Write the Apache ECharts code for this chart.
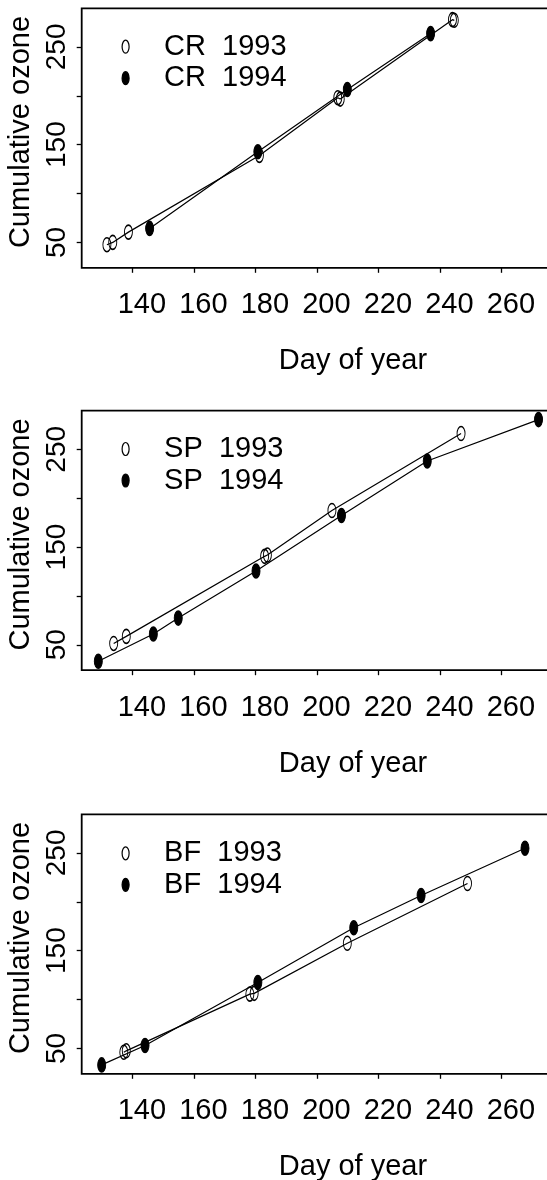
<!DOCTYPE html>
<html><head><meta charset="utf-8">
<script src="https://cdn.jsdelivr.net/npm/echarts@6/dist/echarts.min.js"></script>
<style>html,body{margin:0;padding:0;background:#fff}#c{width:547px;height:1180px}</style>
</head><body><div id="c"></div>
<script>
// ---- data ----
const xTicks = [140, 160, 180, 200, 220, 240, 260];
const yTicks = [50, 100, 150, 200, 250];
const yLabels = [50, 150, 250];
const sites = ['CR', 'SP', 'BF'];
const years = ['1993', '1994'];
const xTitle = 'Day of year';
const yTitle = 'Cumulative ozone';

const cr1993 = [[131.7,47.6],[133.6,50.0],[138.7,60.5],[181.3,139.0],[206.8,198.0],[207.6,196.6],[244.1,277.9],[244.7,277.2]];
const cr1994 = [[145.6,64.3],[180.8,142.7],[209.9,206.5],[237.0,263.6]];
const sp1993 = [[133.9,51.4],[138.0,58.6],[183.0,140.5],[183.9,141.8],[204.9,187.4],[246.9,266.1]];
const sp1994 = [[128.9,33.1],[146.8,61.0],[154.9,77.3],[180.2,125.5],[208.0,182.3],[235.9,238.0],[272.1,280.4]];
const bf1993 = [[137.2,46.0],[138.0,47.5],[178.2,105.5],[179.6,106.3],[209.9,157.5],[249.0,218.7]];
const bf1994 = [[130.0,33.1],[144.1,53.0],[180.8,117.4],[212.0,173.5],[233.9,206.5],[267.7,254.8]];

const panelData = [[cr1993, cr1994], [sp1993, sp1994], [bf1993, bf1994]];

// ---- styling / layout ----
const FONT = '"Liberation Sans", Arial, sans-serif';
const ELLIPSE = 'path://M1,0C1.5523,0 2,0.4477 2,1C2,1.5523 1.5523,2 1,2C0.4477,2 0,1.5523 0,1C0,0.4477 0.4477,0 1,0Z';
const gridTops = [8.3, 410.7, 814.3];
const legendTops = [32.2, 434.5, 838.8];
const GRID_H = 259.5;

const grids = [], xAxes = [], yAxes = [], series = [], legends = [];
gridTops.forEach(function (top, i) {
  grids.push({
    left: 81.7, right: -77.3, top: top, height: GRID_H,
    show: true, borderColor: '#000', borderWidth: 1.8, backgroundColor: 'transparent',
    containLabel: false, outerBoundsMode: 'none'
  });
  xAxes.push({
    type: 'value', gridIndex: i, min: 123.5, max: 300,
    splitLine: { show: false },
    axisLine: { show: false },
    axisTick: { show: true, length: 5, customValues: xTicks, lineStyle: { color: '#000', width: 1.3 } },
    axisLabel: { show: true, customValues: xTicks, margin: 23, fontSize: 29, fontFamily: FONT, color: '#000', padding: [0, 0, 0, 19] },
    name: xTitle, nameLocation: 'middle', nameGap: 79,
    nameTextStyle: { fontSize: 29, fontFamily: FONT, color: '#000' }
  });
  yAxes.push({
    type: 'value', gridIndex: i, min: 24, max: 289.5,
    splitLine: { show: false },
    axisLine: { show: false },
    axisTick: { show: true, length: 5, customValues: yTicks, lineStyle: { color: '#000', width: 1.3 } },
    axisLabel: { show: true, customValues: yLabels, rotate: 90, margin: 10.5, fontSize: 28, fontFamily: FONT, color: '#000' },
    name: yTitle, nameLocation: 'middle', nameGap: 40.5, nameRotate: 90,
    nameTextStyle: { fontSize: 29, fontFamily: FONT, color: '#000', padding: [0, 0, 0, 12] }
  });
  const names = [];
  years.forEach(function (yr, k) {
    const nm = sites[i] + '  ' + yr;
    names.push({ name: nm, icon: ELLIPSE });
    series.push({
      type: 'line', name: nm, xAxisIndex: i, yAxisIndex: i,
      data: panelData[i][k],
      symbol: ELLIPSE, symbolSize: [8, 14], symbolKeepAspect: false,
      lineStyle: { color: '#000', width: 1.2 },
      itemStyle: { color: k === 0 ? 'rgba(0,0,0,0)' : '#000', borderColor: '#000', borderWidth: 1.2 },
      emphasis: { disabled: true },
      silent: true, animation: false
    });
  });
  legends.push({
    data: names, orient: 'vertical', left: 121.5, top: legendTops[i], padding: 0,
    itemWidth: 7, itemHeight: 13, itemGap: 2.5, symbolKeepAspect: false,
    selectedMode: false,
    itemStyle: { borderWidth: 1.2, borderColor: '#000' },
    textStyle: { fontSize: 29, fontFamily: FONT, color: '#000', lineHeight: 29, padding: [0, 0, 0, 30] }
  });
});

const chart = echarts.init(document.getElementById('c'), null, { renderer: 'canvas' });
chart.setOption({
  backgroundColor: '#fff',
  animation: false,
  grid: grids, xAxis: xAxes, yAxis: yAxes, series: series, legend: legends
});
</script></body></html>
